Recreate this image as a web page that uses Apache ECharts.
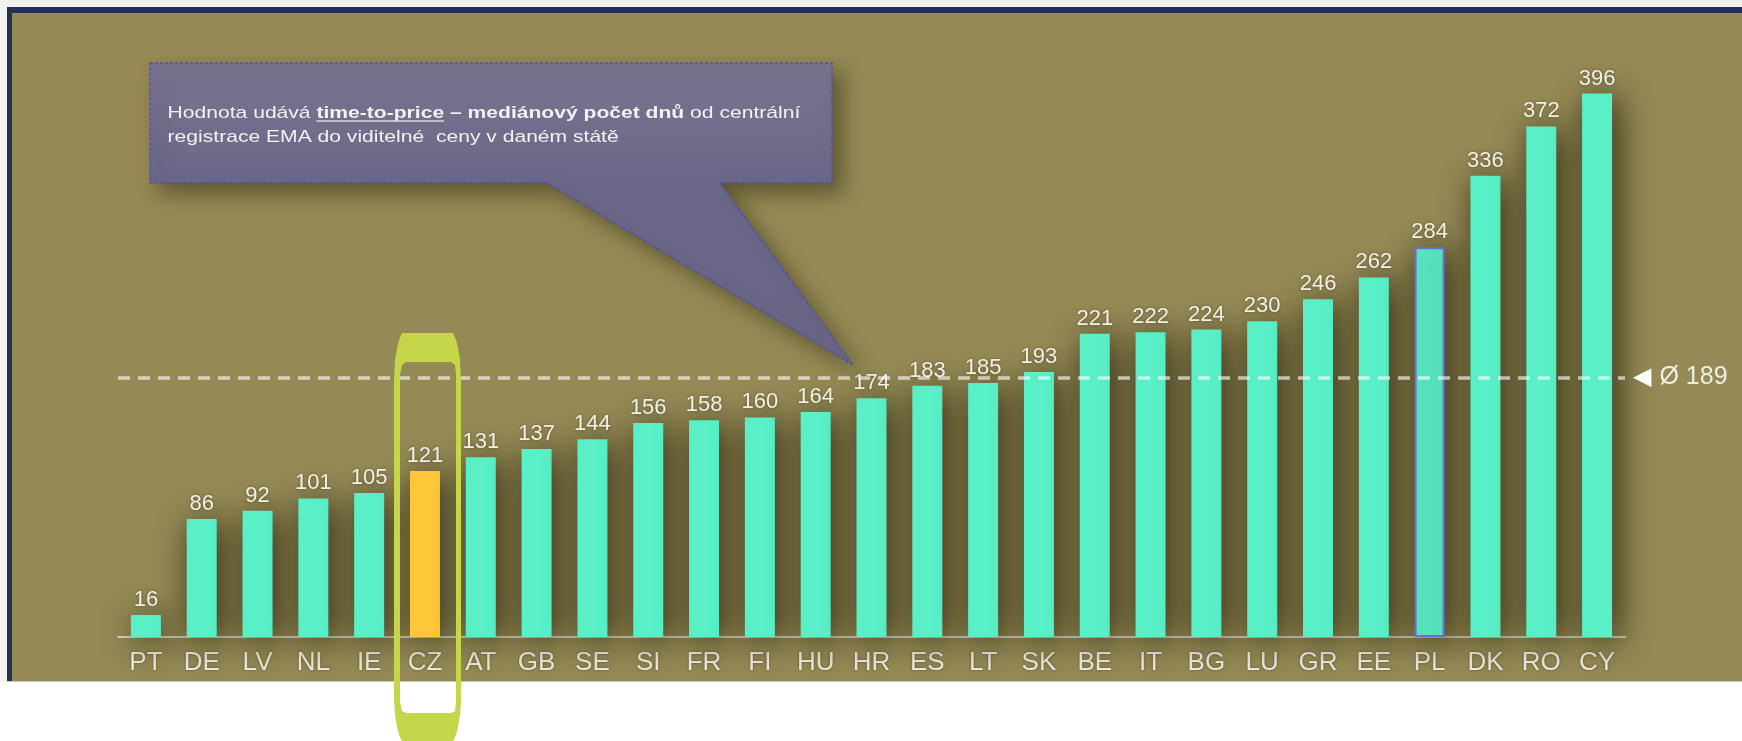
<!DOCTYPE html>
<html>
<head>
<meta charset="utf-8">
<script src="https://cdn.jsdelivr.net/npm/echarts@6/dist/echarts.min.js"></script>
<style>
html,body{margin:0;padding:0;background:#ffffff;width:1742px;height:741px;overflow:hidden}
#topstrip{position:absolute;left:0;top:0;width:1742px;height:7px;background:#f1f0ee}
#leftstrip{position:absolute;left:0;top:0;width:7px;height:682px;background:#f2f2f0}
#frame{position:absolute;left:7px;top:7px;width:1735px;height:675px;background:#1f3350}
#panel{position:absolute;left:12px;top:13px;width:1730px;height:668px;background:#958a55}
#bline{position:absolute;left:7px;top:681px;width:1735px;height:1px;background:#c8c6bd}
#chart{position:absolute;left:0;top:0;width:1742px;height:741px}
</style>
</head>
<body>
<div id="topstrip"></div><div id="leftstrip"></div><div id="frame"></div><div id="panel"></div><div id="bline"></div>
<div id="chart"></div>
<script>
// ---- data ----
const categories = ['PT','DE','LV','NL','IE','CZ','AT','GB','SE','SI','FR','FI','HU','HR','ES','LT','SK','BE','IT','BG','LU','GR','EE','PL','DK','RO','CY'];
const values = [16,86,92,101,105,121,131,137,144,156,158,160,164,174,183,185,193,221,222,224,230,246,262,284,336,372,396];
const averageValue = 189;
const highlightCategory = 'CZ';
const outlinedCategory = 'PL';
const noteNormal1 = 'Hodnota udává ';
const noteUnderlined = 'time-to-price';
const noteBold = ' – mediánový počet dnů';
const noteNormal2 = ' od centrální';
const noteLine2 = 'registrace EMA do viditelné  ceny v daném státě';

// ---- chart ----
const chart = echarts.init(document.getElementById('chart'));
const FONT = '"Liberation Sans", Arial, sans-serif';

const barData = values.map((v, i) => {
  const c = categories[i];
  if (c === highlightCategory) return { value: v, itemStyle: { color: '#ffc83a' } };
  if (c === outlinedCategory) return { value: v, itemStyle: { borderColor: '#6e6ed8', borderWidth: 2 } };
  return v;
});

// callout text metrics for underline
const noteSize = 17, noteScale = 1.24, noteX = 167.6, noteY = 101;
const mctx = document.createElement('canvas').getContext('2d');
mctx.font = noteSize + 'px ' + FONT;
const w1 = mctx.measureText(noteNormal1).width;
mctx.font = 'bold ' + noteSize + 'px ' + FONT;
const w2 = mctx.measureText(noteUnderlined).width;

// highlight ring (keyhole polygon: outer clockwise, inner counter-clockwise)
const ringOuter = [[402,333],[453,333],[456,340],[458,348],[460,360],[461,380],[461,400],[461,680],[461,700],[460,715],[458,727],[456,735],[453,741],
  [402,741],[399,735],[397,727],[395,715],[394,700],[394,680],[394,400],[394,380],[395,360],[397,348],[399,340],[402,333]];
const ringInner = [[406,362],[402,365],[400,375],[400,390],[400,690],[400,702],[402,711],[406,713],[451,713],[455,711],[456,702],[456,690],
  [456,390],[456,375],[455,365],[451,362],[406,362]];
const ringPoints = ringOuter.concat(ringInner);

const option = {
  animation: false,
  grid: { left: 118, right: 117, top: 88, bottom: 104 },
  xAxis: {
    type: 'category',
    data: categories,
    axisLine: { lineStyle: { color: '#dcd8c6', width: 2 } },
    axisTick: { show: false },
    axisLabel: { color: '#efece2', fontSize: 26, fontFamily: FONT, margin: 13, interval: 0,
      textShadowColor: 'rgba(50,45,20,0.5)', textShadowBlur: 3 }
  },
  yAxis: { type: 'value', min: 0, max: 400, show: false },
  series: [{
    type: 'bar',
    data: barData,
    barWidth: 30,
    z: 2,
    itemStyle: { color: '#59f0c8', shadowBlur: 34, shadowColor: 'rgba(35,32,12,0.95)', shadowOffsetX: 5, shadowOffsetY: 4 },
    label: { show: true, position: 'top', distance: 4, color: '#f3f0e6', fontSize: 22, fontFamily: FONT,
      textShadowColor: 'rgba(50,45,20,0.5)', textShadowBlur: 3 },
    markLine: {
      silent: true,
      symbol: ['none', 'none'],
      data: [{ yAxis: averageValue }],
      lineStyle: { type: [12, 8], width: 3.5, color: 'rgba(255,255,255,0.62)' },
      label: {
        position: 'end', distance: 8,
        formatter: '{t|◀}{v|Ø ' + averageValue + '}',
        rich: {
          t: { fontFamily: '"DejaVu Sans"', fontSize: 24, color: '#ffffff', padding: [0, 8, 0, 0] },
          v: { fontFamily: FONT, fontSize: 25, color: '#f0eee4' }
        }
      }
    }
  }],
  graphic: {
    elements: [
      {
        type: 'polygon', z: 50, silent: true,
        shape: { points: [[150,63],[832,63],[832,183],[720,183],[853,365],[547,183],[150,183]] },
        style: {
          fill: new echarts.graphic.LinearGradient(0, 0, 0, 1, [
            { offset: 0, color: '#78748f' }, { offset: 0.4, color: '#6b6788' }, { offset: 1, color: '#6a6686' }
          ]),
          stroke: '#4d50b5', lineWidth: 1.5, lineDash: [3, 2],
          shadowBlur: 20, shadowColor: 'rgba(45,40,15,0.5)', shadowOffsetX: 10, shadowOffsetY: 10
        }
      },
      {
        type: 'text', z: 51, silent: true,
        x: noteX, y: noteY, scaleX: noteScale,
        style: {
          text: '{n|' + noteNormal1 + '}{b|' + noteUnderlined + '}{b|' + noteBold + '}{n|' + noteNormal2 + '}\n{n|' + noteLine2 + '}',
          fill: '#f2f2f4',
          rich: {
            n: { fontFamily: FONT, fontSize: noteSize, lineHeight: 24.5, fill: '#f2f2f4', color: '#f2f2f4' },
            b: { fontFamily: FONT, fontSize: noteSize, fontWeight: 'bold', lineHeight: 24.5, fill: '#f2f2f4', color: '#f2f2f4' }
          }
        }
      },
      {
        type: 'line', z: 51, silent: true,
        shape: { x1: noteX + w1 * noteScale, y1: 121, x2: noteX + (w1 + w2) * noteScale, y2: 121 },
        style: { stroke: '#d8d8e0', lineWidth: 1.5 }
      },
      {
        type: 'polygon', z: 60, silent: true,
        shape: { points: ringPoints },
        style: { fill: '#c5d64b' }
      }
    ]
  }
};
chart.setOption(option);
</script>
</body>
</html>
